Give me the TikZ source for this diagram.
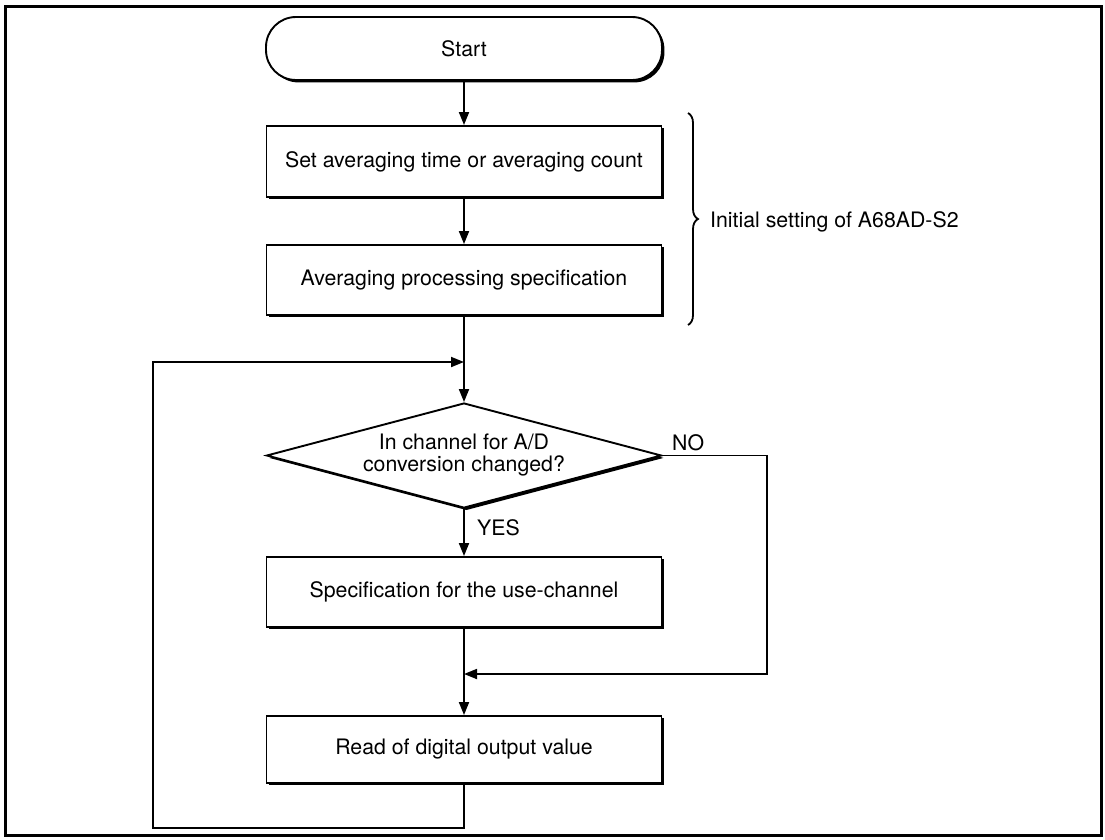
\documentclass[tikz,border=0pt]{standalone}
\usepackage{fontspec}
\setmainfont{TeX Gyre Heros}
\usetikzlibrary{shapes.geometric,arrows.meta,decorations.pathreplacing,shadows}
\begin{document}
\begin{tikzpicture}[x=1pt,y=-1pt,
  every node/.style={font=\fontsize{21.3}{22}\selectfont},
  boxshadow/.style={drop shadow={shadow xshift=2.4pt,shadow yshift=-2.4pt,opacity=1,fill=black}},
  procbox/.style={draw,line width=1.9pt,fill=white,minimum width=395pt,inner sep=0pt,boxshadow},
  termbox/.style={draw,line width=1.9pt,fill=white,rounded corners=30pt,minimum width=396pt,minimum height=63pt,inner sep=0pt,boxshadow},
  decbox/.style={draw,diamond,line width=1.9pt,fill=white,aspect=3.76,minimum width=395pt,minimum height=105pt,inner sep=0pt,align=center,boxshadow},
  conn/.style={line width=1.8pt},
  arr/.style={conn,-{Triangle[length=13pt,width=10pt]}},
  lbl/.style={anchor=west,inner sep=0pt}
]
\useasboundingbox (0,0) rectangle (1105,839);
\draw[line width=3pt] (5,6) rectangle (1101,835);

\node[termbox] (start) at (464,48.5) {Start};
\node[procbox,minimum height=71pt] (b1) at (464,161.5) {Set averaging time or averaging count};
\node[procbox,minimum height=70pt] (b2) at (464,280) {Averaging processing specification};
\node[decbox] (dec) at (464,455.5) {In channel for A/D\\conversion changed?};
\node[procbox,minimum height=70pt] (b3) at (464,592) {Specification for the use-channel};
\node[procbox,minimum height=67pt] (b4) at (464,749.5) {Read of digital output value};

\coordinate (j1) at (464,362);
\coordinate (j2) at (464,674);
\coordinate (no1) at (767,455.5);
\coordinate (no2) at (767,674);
\coordinate (l1) at (464,828);
\coordinate (l2) at (153,828);
\coordinate (l3) at (153,362);
\coordinate (bt) at (688,113);
\coordinate (bb) at (688,325);

\draw[arr] (start) -- (b1);
\draw[arr] (b1) -- (b2);
\draw[conn] (b2) -- (j1);
\draw[arr] (j1) -- (dec);
\draw[arr] (dec) -- (b3);
\draw[conn] (b3) -- (j2);
\draw[arr] (j2) -- (b4);
\draw[arr] (dec.east) -- (no1) -- (no2) -- (j2);
\draw[arr] (b4) -- (l1) -- (l2) -- (l3) -- (j1);

\node[lbl] (yes) at (477,528) {YES};
\node[lbl] (no) at (672,443) {NO};

\draw[conn,decorate,decoration={brace,amplitude=10pt}] (bt) -- (bb);
\node[lbl] (init) at (710,222) {Initial setting of A68AD-S2};
\end{tikzpicture}
\end{document}
